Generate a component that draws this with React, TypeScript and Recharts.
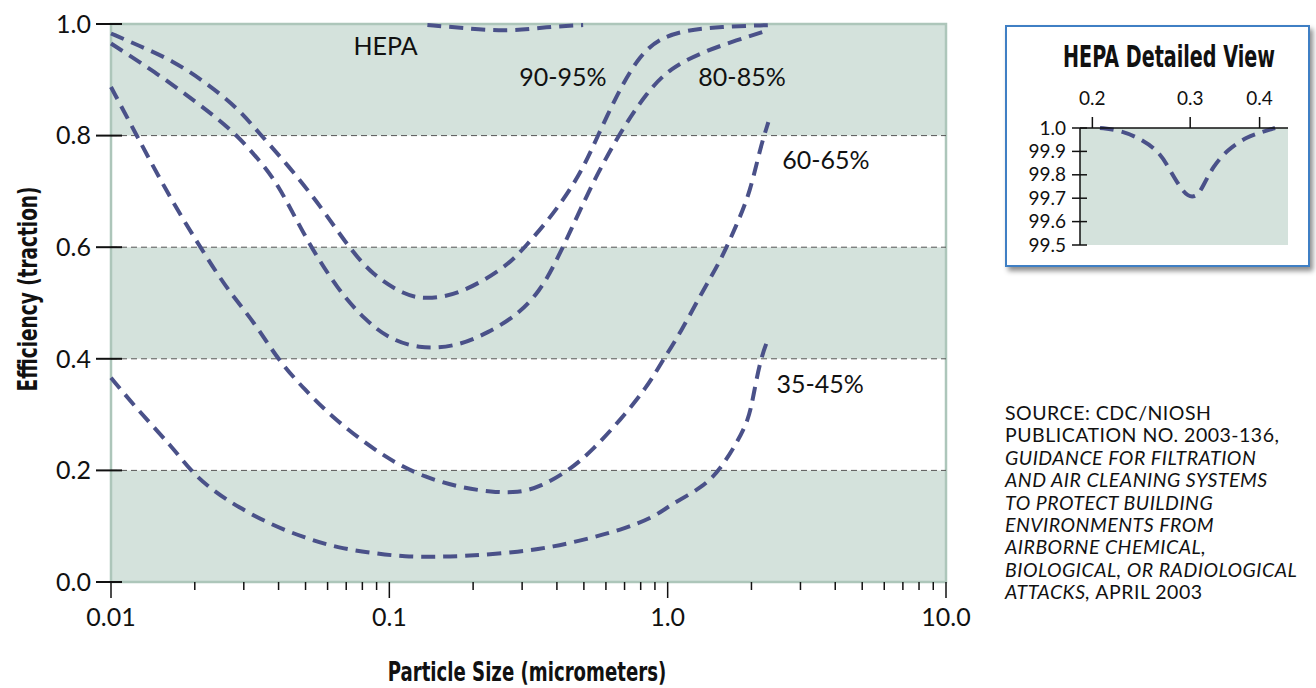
import { LineChart, Line, XAxis, YAxis, ReferenceArea, ReferenceLine, ReferenceDot } from 'recharts';

// particle size (micrometers) / efficiency (fraction)
const sizes9095 = [0.01, 0.0125, 0.0166, 0.0218, 0.0286, 0.0338, 0.0433, 0.0573, 0.0693, 0.0866, 0.114, 0.134, 0.177, 0.261, 0.307, 0.387, 0.484, 0.557, 0.674, 0.796, 0.938, 1.17, 1.54, 2.3];
const eff9095 = [0.983, 0.962, 0.935, 0.896, 0.849, 0.806, 0.747, 0.67, 0.609, 0.55, 0.514, 0.507, 0.514, 0.563, 0.6, 0.658, 0.729, 0.796, 0.885, 0.944, 0.975, 0.989, 0.995, 0.998];

const sizes8085 = [0.01, 0.0144, 0.0205, 0.0272, 0.0329, 0.0398, 0.0498, 0.0654, 0.0818, 0.0989, 0.127, 0.172, 0.226, 0.295, 0.348, 0.387, 0.446, 0.539, 0.675, 0.843, 1.02, 1.34, 1.77, 2.3];
const eff8085 = [0.965, 0.914, 0.858, 0.81, 0.765, 0.715, 0.617, 0.523, 0.47, 0.437, 0.418, 0.421, 0.446, 0.482, 0.523, 0.563, 0.627, 0.717, 0.806, 0.878, 0.921, 0.95, 0.971, 0.989];

const sizes6065 = [0.01, 0.0125, 0.0166, 0.0218, 0.0263, 0.0329, 0.0398, 0.0498, 0.0622, 0.0818, 0.105, 0.134, 0.177, 0.234, 0.29, 0.348, 0.446, 0.539, 0.675, 0.843, 0.962, 1.11, 1.34, 1.54, 1.77, 1.98, 2.15, 2.3];
const eff6065 = [0.887, 0.796, 0.681, 0.586, 0.523, 0.464, 0.398, 0.344, 0.296, 0.249, 0.213, 0.188, 0.17, 0.161, 0.16, 0.17, 0.201, 0.237, 0.29, 0.349, 0.398, 0.446, 0.523, 0.573, 0.64, 0.699, 0.778, 0.824];

const sizes3545 = [0.01, 0.0125, 0.0166, 0.0195, 0.0231, 0.0286, 0.0379, 0.0498, 0.0654, 0.0866, 0.114, 0.15, 0.198, 0.295, 0.387, 0.513, 0.675, 0.886, 1.02, 1.34, 1.54, 1.77, 1.95, 2.03, 2.15, 2.3];
const eff3545 = [0.366, 0.308, 0.242, 0.197, 0.165, 0.134, 0.102, 0.079, 0.061, 0.052, 0.045, 0.045, 0.047, 0.054, 0.063, 0.077, 0.093, 0.115, 0.138, 0.17, 0.201, 0.249, 0.29, 0.332, 0.398, 0.437];

const sizesHepa = [0.137, 0.184, 0.265, 0.369, 0.497];
const effHepa = [0.998, 0.993, 0.986, 0.995, 0.998];

// inset: HEPA detailed view (efficiency in %)
const detailSizes = [0.2064, 0.2243, 0.247, 0.265, 0.2757, 0.2873, 0.297, 0.3083, 0.3162, 0.3296, 0.3496, 0.3796, 0.4058, 0.4265];
const detailEff = [100, 99.991, 99.949, 99.893, 99.821, 99.749, 99.706, 99.706, 99.749, 99.835, 99.906, 99.963, 99.984, 100];

const sizeTicks = [
  0.01, 0.02, 0.03, 0.04, 0.05, 0.06, 0.07, 0.08, 0.09,
  0.1, 0.2, 0.3, 0.4, 0.5, 0.6, 0.7, 0.8, 0.9,
  1, 2, 3, 4, 5, 6, 7, 8, 9, 10,
];
const majorSizes = [0.01, 0.1, 1, 10];
const majorLabels = ['0.01', '0.1', '1.0', '10.0'];
const effTicks = [0, 0.2, 0.4, 0.6, 0.8, 1];
const gridLevels = [0.2, 0.4, 0.6, 0.8];
const shadedBands = [[0, 0.2], [0.4, 0.6], [0.8, 1]];

const detailSizeTicks = [0.2, 0.3, 0.4];
const detailEffTicks = [99.5, 99.6, 99.7, 99.8, 99.9, 100];

const seriesLabels = [
  { name: 'HEPA', x: 0.097, y: 0.961 },
  { name: '90-95%', x: 0.42, y: 0.905 },
  { name: '80-85%', x: 1.85, y: 0.905 },
  { name: '60-65%', x: 3.7, y: 0.756 },
  { name: '35-45%', x: 3.53, y: 0.355 },
];

const toPoints = (xs: number[], ys: number[]) => xs.map((x, i) => ({ x, y: ys[i] }));

const LINE = '#4a5189';
const GREEN = '#d4e2dc';
const EDGE = '#adc6ba';
const INK = '#111';
const DASH = '14 8';
const TEXT_FONT = "Lato, 'Open Sans', sans-serif";
const TITLE_FONT = "'Liberation Sans Narrow', 'DejaVu Sans Condensed', Lato, sans-serif";

function SizeTick(props: any) {
  const { x, y, payload } = props;
  const idx = majorSizes.findIndex((v) => Math.abs(v - payload.value) < 1e-9);
  return (
    <g>
      <line x1={x} x2={x} y1={y} y2={y + (idx >= 0 ? 16 : 8)} stroke={INK} strokeWidth={1.5} />
      {idx >= 0 && (
        <text x={x} y={y + 35} dy="0.35em" textAnchor="middle" fontSize={25} fill={INK}>
          {majorLabels[idx]}
        </text>
      )}
    </g>
  );
}

function EffTick(props: any) {
  const { x, y, payload } = props;
  return (
    <g>
      <line x1={x - 15} x2={x + 11} y1={y} y2={y} stroke={INK} strokeWidth={2} />
      <text x={x - 20} y={y} dy="0.35em" textAnchor="end" fontSize={25} fill={INK}>
        {Number(payload.value).toFixed(1)}
      </text>
    </g>
  );
}

function DetailSizeTick(props: any) {
  const { x, y, payload } = props;
  return (
    <g>
      <line x1={x} x2={x} y1={y} y2={y - 11} stroke={INK} strokeWidth={1.5} />
      <text x={x} y={y - 30} dy="0.35em" textAnchor="middle" fontSize={19} fill={INK}>
        {Number(payload.value).toFixed(1)}
      </text>
    </g>
  );
}

function DetailEffTick(props: any) {
  const { x, y, payload } = props;
  const v = Number(payload.value);
  return (
    <g>
      <line x1={x - 8} x2={x + 7} y1={y} y2={y} stroke={INK} strokeWidth={1.5} />
      <text x={x - 14} y={y} dy="0.35em" textAnchor="end" fontSize={19} fill={INK}>
        {v >= 100 ? '1.0' : v.toFixed(1)}
      </text>
    </g>
  );
}

const series = [
  { key: 'hepa', data: toPoints(sizesHepa, effHepa) },
  { key: '9095', data: toPoints(sizes9095, eff9095) },
  { key: '8085', data: toPoints(sizes8085, eff8085) },
  { key: '6065', data: toPoints(sizes6065, eff6065) },
  { key: '3545', data: toPoints(sizes3545, eff3545) },
];

const titleStyle = (left: number, top: number, size: number, squeeze: number, rotate = false) => ({
  position: 'absolute' as const,
  left,
  top,
  transform: `translate(-50%, -50%)${rotate ? ' rotate(-90deg)' : ''} scaleX(${squeeze})`,
  whiteSpace: 'nowrap' as const,
  fontFamily: TITLE_FONT,
  fontWeight: 700,
  fontSize: size,
  lineHeight: 1,
});

export default function App() {
  return (
    <div
      style={{
        position: 'absolute',
        left: 0,
        top: 0,
        width: 1316,
        height: 688,
        background: '#fff',
        fontFamily: TEXT_FONT,
        color: INK,
        overflow: 'hidden',
      }}
    >
      <div style={{ position: 'absolute', left: 0, top: 0 }}>
        <LineChart width={1000} height={688} margin={{ top: 24, right: 54, bottom: 0, left: 0 }}>
          <XAxis
            dataKey="x"
            type="number"
            scale="log"
            domain={[0.01, 10]}
            ticks={sizeTicks}
            interval={0}
            height={106}
            axisLine={false}
            tickLine={false}
            tickSize={0}
            tickMargin={0}
            tick={SizeTick}
          />
          <YAxis
            type="number"
            domain={[0, 1]}
            ticks={effTicks}
            interval={0}
            width={111}
            axisLine={false}
            tickLine={false}
            tickSize={0}
            tickMargin={0}
            tick={EffTick}
          />
          {shadedBands.map(([lo, hi]) => (
            <ReferenceArea key={lo} x1={0.01} x2={10} y1={lo} y2={hi} fill={GREEN} fillOpacity={1} stroke="none" />
          ))}
          {gridLevels.map((v) => (
            <ReferenceLine key={v} y={v} stroke="#555" strokeDasharray="6 4" strokeWidth={1} />
          ))}
          <ReferenceArea x1={0.01} x2={10} y1={0} y2={1} fill="none" stroke={EDGE} strokeWidth={2.5} />
          {series.map((s) => (
            <Line
              key={s.key}
              data={s.data}
              dataKey="y"
              type="basis"
              stroke={LINE}
              strokeWidth={4}
              strokeDasharray={DASH}
              dot={false}
              activeDot={false}
              isAnimationActive={false}
            />
          ))}
          {seriesLabels.map((l) => (
            <ReferenceDot
              key={l.name}
              x={l.x}
              y={l.y}
              r={1}
              fill="none"
              stroke="none"
              label={{ value: l.name, position: 'center', fontSize: 25, fill: INK }}
            />
          ))}
        </LineChart>
      </div>

      <div style={titleStyle(28, 289, 26, 0.79, true)}>Efficiency (traction)</div>
      <div style={titleStyle(527, 672, 26, 0.775)}>Particle Size (micrometers)</div>

      <div
        style={{
          position: 'absolute',
          left: 1005,
          top: 25,
          width: 305,
          height: 242,
          boxSizing: 'border-box',
          border: '2px solid #3f7fc4',
          boxShadow: '3px 4px 5px rgba(0,0,0,0.45)',
          background: '#fff',
        }}
      />
      <div style={titleStyle(1169, 57, 30, 0.71)}>HEPA Detailed View</div>
      <div style={{ position: 'absolute', left: 1000, top: 80 }}>
        <LineChart width={310} height={180} margin={{ top: 0, right: 22, bottom: 15, left: 0 }}>
          <XAxis
            dataKey="x"
            type="number"
            scale="log"
            orientation="top"
            domain={[0.19, 0.45]}
            ticks={detailSizeTicks}
            interval={0}
            height={48}
            axisLine={{ stroke: INK, strokeWidth: 1.5 }}
            tickLine={false}
            tickSize={0}
            tickMargin={0}
            tick={DetailSizeTick}
          />
          <YAxis
            type="number"
            domain={[99.5, 100]}
            ticks={detailEffTicks}
            interval={0}
            width={80}
            axisLine={{ stroke: INK, strokeWidth: 1.5 }}
            tickLine={false}
            tickSize={0}
            tickMargin={0}
            tick={DetailEffTick}
          />
          <ReferenceArea x1={0.19} x2={0.45} y1={99.5} y2={100} fill={GREEN} fillOpacity={1} stroke="none" />
          <Line
            data={toPoints(detailSizes, detailEff)}
            dataKey="y"
            type="basis"
            stroke={LINE}
            strokeWidth={4}
            strokeDasharray={DASH}
            dot={false}
            activeDot={false}
            isAnimationActive={false}
          />
        </LineChart>
      </div>

      <div
        style={{
          position: 'absolute',
          left: 1005,
          top: 402,
          fontSize: 19.5,
          letterSpacing: '0.5px',
          lineHeight: '22.4px',
          whiteSpace: 'nowrap',
        }}
      >
        <div>SOURCE: CDC/NIOSH</div>
        <div>PUBLICATION NO. 2003-136,</div>
        <div style={{ fontStyle: 'italic' }}>GUIDANCE FOR FILTRATION</div>
        <div style={{ fontStyle: 'italic' }}>AND AIR CLEANING SYSTEMS</div>
        <div style={{ fontStyle: 'italic' }}>TO PROTECT BUILDING</div>
        <div style={{ fontStyle: 'italic' }}>ENVIRONMENTS FROM</div>
        <div style={{ fontStyle: 'italic' }}>AIRBORNE CHEMICAL,</div>
        <div style={{ fontStyle: 'italic' }}>BIOLOGICAL, OR RADIOLOGICAL</div>
        <div>
          <span style={{ fontStyle: 'italic' }}>ATTACKS,</span> APRIL 2003
        </div>
      </div>
    </div>
  );
}
